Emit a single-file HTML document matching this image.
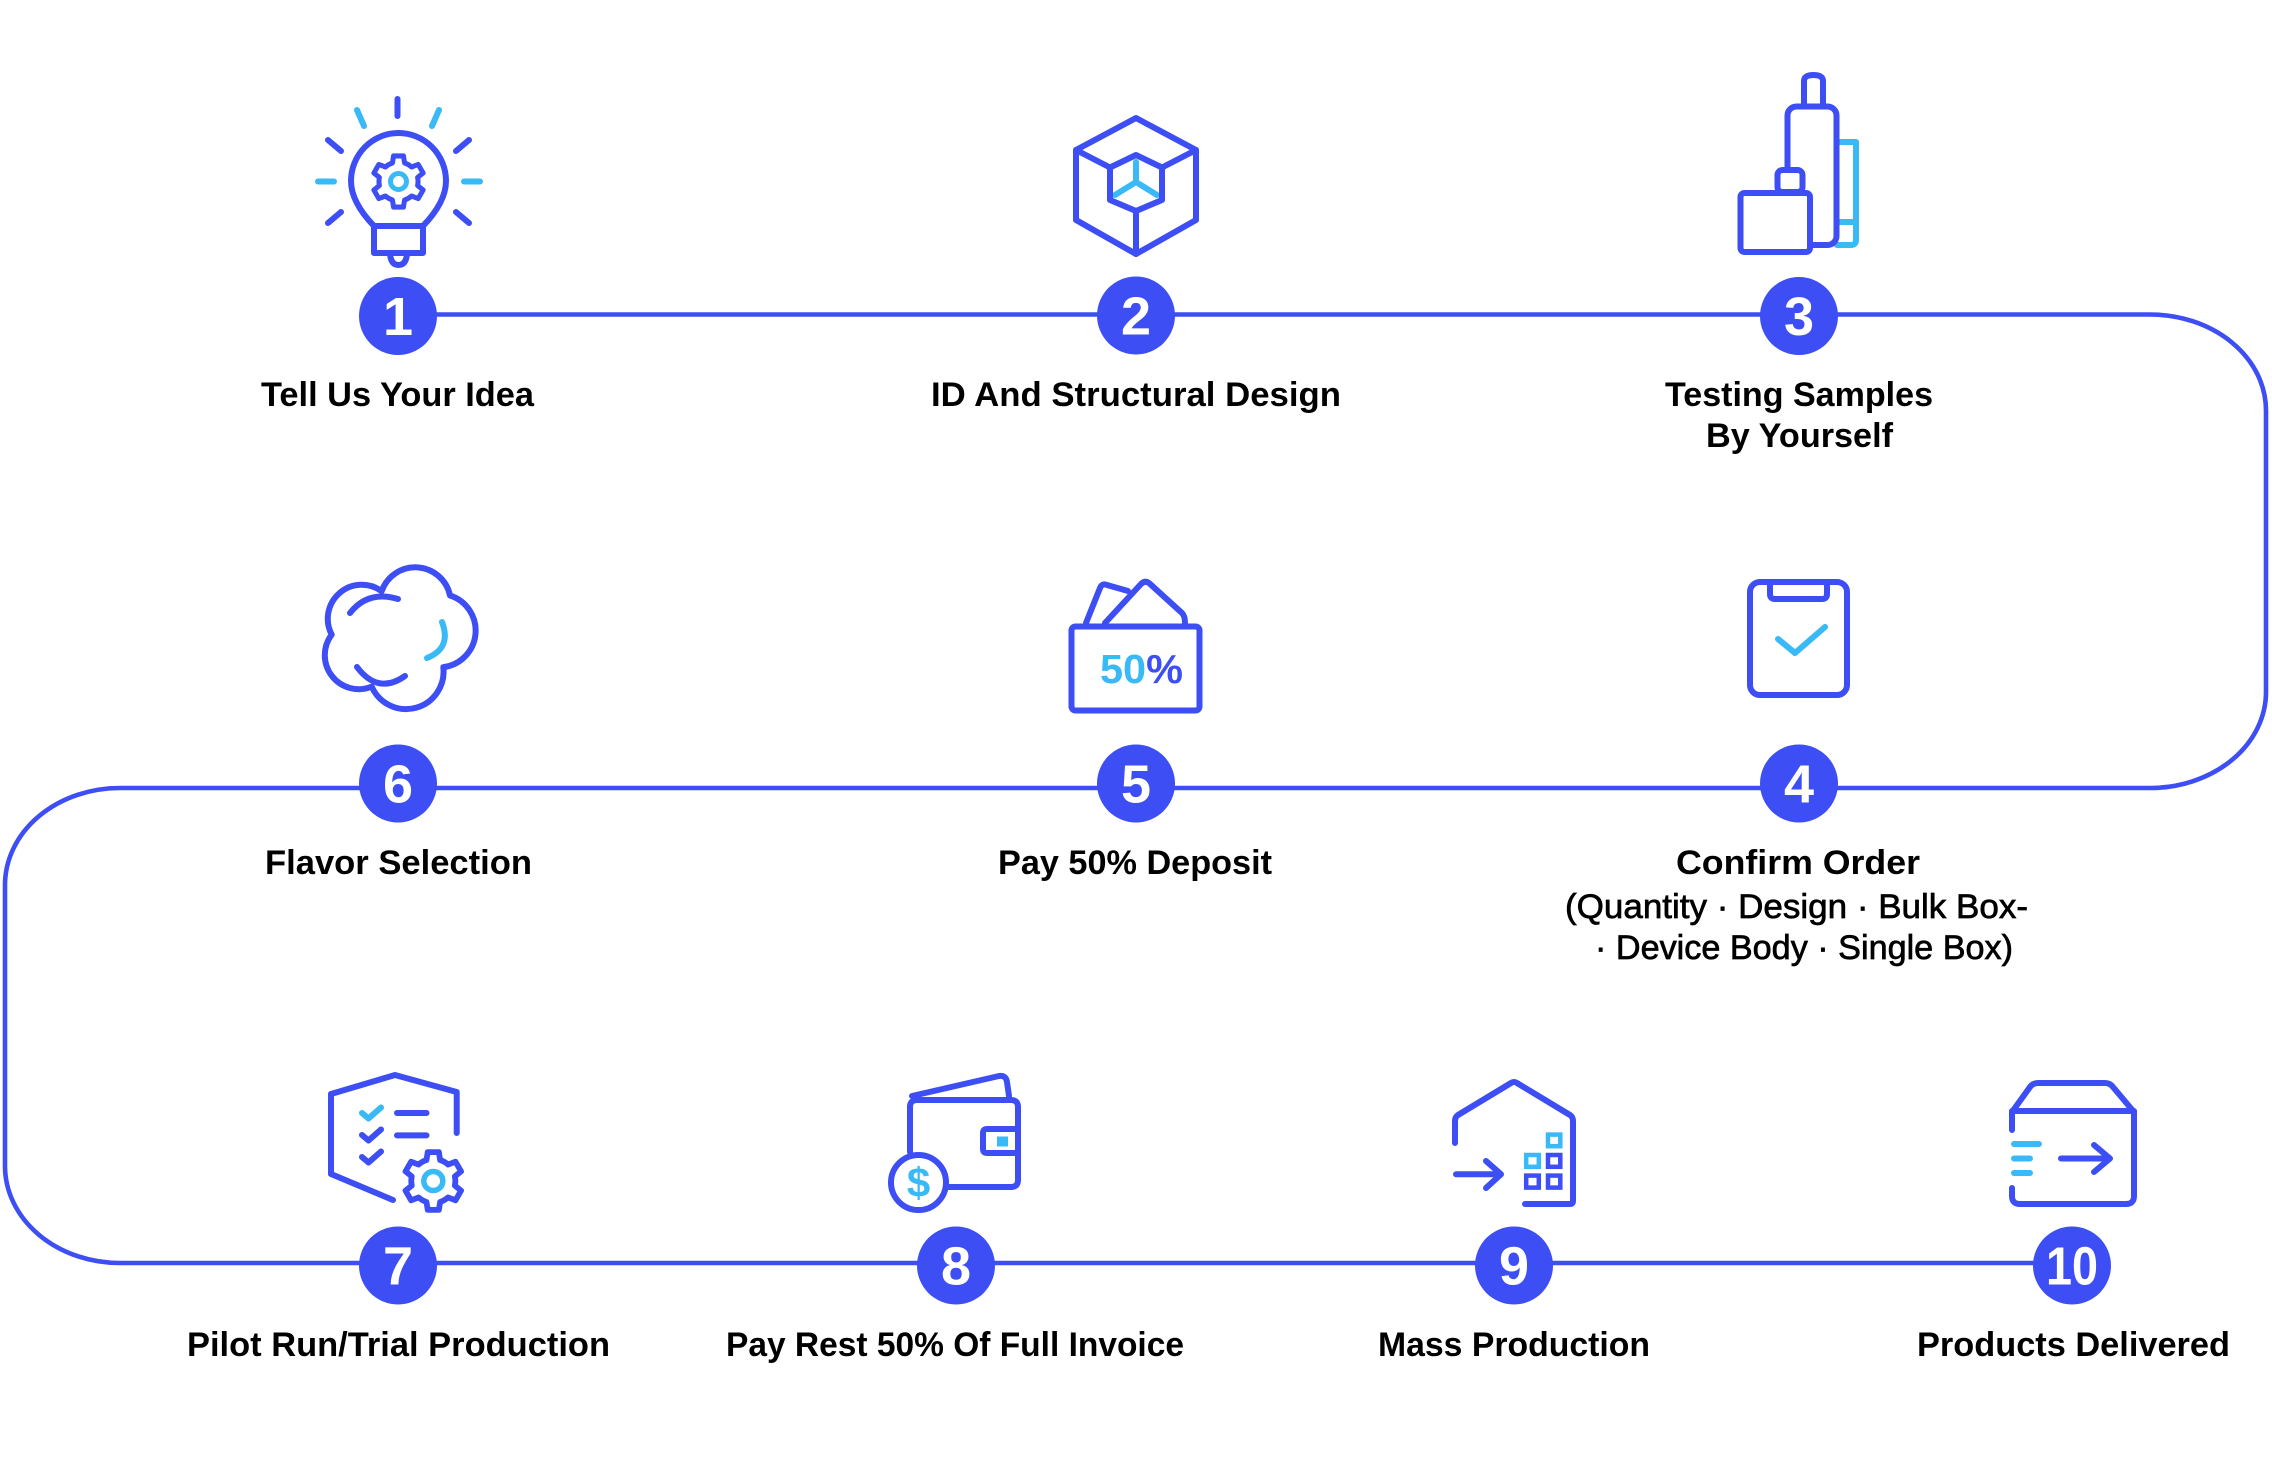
<!DOCTYPE html>
<html>
<head>
<meta charset="utf-8">
<style>
  html,body{margin:0;padding:0;background:#fff;}
  svg{display:block;}
  .lbl{font-family:"Liberation Sans",Arial,sans-serif;font-weight:bold;font-size:34px;fill:#000;}
  .sub{font-family:"Liberation Sans",Arial,sans-serif;font-weight:normal;font-size:34px;fill:#000;stroke:#000;stroke-width:0.7;}
  .num{font-family:"Liberation Sans",Arial,sans-serif;font-weight:bold;font-size:54px;fill:#fff;}
  .b{fill:none;stroke:#3d4ef5;stroke-width:6;stroke-linecap:round;stroke-linejoin:round;}
  .l{fill:none;stroke:#3ab9f7;stroke-width:6;stroke-linecap:round;stroke-linejoin:round;}
  .w{fill:#fff;}
</style>
</head>
<body>
<svg width="2272" height="1459" viewBox="0 0 2272 1459" xmlns="http://www.w3.org/2000/svg">
  <defs>
    <path id="gear" d="M -6.49 -19.97 L -5.34 -27.49 L 5.34 -27.49 L 6.49 -19.97 A 21 21 0 0 1 14.05 -15.61 L 21.13 -18.37 L 26.47 -9.12 L 20.54 -4.37 A 21 21 0 0 1 20.54 4.37 L 26.47 9.12 L 21.13 18.37 L 14.05 15.61 A 21 21 0 0 1 6.49 19.97 L 5.34 27.49 L -5.34 27.49 L -6.49 19.97 A 21 21 0 0 1 -14.05 15.61 L -21.13 18.37 L -26.47 9.12 L -20.54 4.37 A 21 21 0 0 1 -20.54 -4.37 L -26.47 -9.12 L -21.13 -18.37 L -14.05 -15.61 A 21 21 0 0 1 -6.49 -19.97 Z"/>
  </defs>

  <!-- main serpentine connector -->
  <path d="M 398 314.5 H 2150 A 116 96 0 0 1 2266 410.5 V 692 A 116 96 0 0 1 2150 788 H 120 A 115 97 0 0 0 5 885 V 1166 A 115 97 0 0 0 120 1263 H 2072"
        fill="none" stroke="#3d4ef5" stroke-width="4.6"/>

  <!-- step circles -->
  <g fill="#3d4ef5">
    <circle cx="398" cy="316" r="39"/>
    <circle cx="1136" cy="315.5" r="39"/>
    <circle cx="1799" cy="316" r="39"/>
    <circle cx="398" cy="783.5" r="39"/>
    <circle cx="1136" cy="783.5" r="39"/>
    <circle cx="1799" cy="783.5" r="39"/>
    <circle cx="398" cy="1265.5" r="39"/>
    <circle cx="956" cy="1265.5" r="39"/>
    <circle cx="1514" cy="1265.5" r="39"/>
    <circle cx="2072" cy="1265.5" r="39"/>
  </g>
  <g class="num" text-anchor="middle">
    <text x="398" y="335">1</text>
    <text x="1136" y="334.5">2</text>
    <text x="1799" y="335">3</text>
    <text x="1799" y="802.5">4</text>
    <text x="1136" y="802.5">5</text>
    <text x="398" y="802.5">6</text>
    <text x="398" y="1284.5">7</text>
    <text x="956" y="1284.5">8</text>
    <text x="1514" y="1284.5">9</text>
    <text x="2072" y="1284.5" textLength="52" lengthAdjust="spacingAndGlyphs">10</text>
  </g>

  <!-- labels -->
  <text class="lbl" x="261" y="406" textLength="273" lengthAdjust="spacingAndGlyphs">Tell Us Your Idea</text>
  <text class="lbl" x="931" y="406" textLength="410" lengthAdjust="spacingAndGlyphs">ID And Structural Design</text>
  <text class="lbl" x="1665" y="406" textLength="268" lengthAdjust="spacingAndGlyphs">Testing Samples</text>
  <text class="lbl" x="1706" y="447" textLength="187" lengthAdjust="spacingAndGlyphs">By Yourself</text>

  <text class="lbl" x="1676" y="874" textLength="244" lengthAdjust="spacingAndGlyphs">Confirm Order</text>
  <text class="sub" x="1565" y="918" textLength="463" lengthAdjust="spacingAndGlyphs">(Quantity · Design · Bulk Box-</text>
  <text class="sub" x="1595" y="959" textLength="418" lengthAdjust="spacingAndGlyphs">· Device Body · Single Box)</text>
  <text class="lbl" x="998" y="874" textLength="274" lengthAdjust="spacingAndGlyphs">Pay 50% Deposit</text>
  <text class="lbl" x="265" y="874" textLength="267" lengthAdjust="spacingAndGlyphs">Flavor Selection</text>

  <text class="lbl" x="187" y="1356" textLength="423" lengthAdjust="spacingAndGlyphs">Pilot Run/Trial Production</text>
  <text class="lbl" x="726" y="1356" textLength="458" lengthAdjust="spacingAndGlyphs">Pay Rest 50% Of Full Invoice</text>
  <text class="lbl" x="1378" y="1356" textLength="272" lengthAdjust="spacingAndGlyphs">Mass Production</text>
  <text class="lbl" x="1917" y="1356" textLength="313" lengthAdjust="spacingAndGlyphs">Products Delivered</text>

  <!-- ICON 1: light bulb -->
  <g>
    <path class="b" d="M 374 226 Q 351 202 351 181 A 47.5 48 0 0 1 446 181 Q 446 202 423 226" stroke-width="5.5"/>
    <rect class="b" x="374" y="226" width="49" height="27" stroke-width="5.5" stroke-linejoin="miter"/>
    <path class="b" d="M 390 254 Q 391 265 398.5 265 Q 406 265 407 254" stroke-width="5"/>
    <use href="#gear" transform="translate(398.5 181.5) scale(0.93)" fill="#fff" stroke="#3d4ef5" stroke-width="5.4" stroke-linejoin="round"/>
    <circle cx="398.5" cy="181.5" r="8" fill="none" stroke="#3ab9f7" stroke-width="5"/>
    <path class="b" d="M 397.5 99 V 116" stroke-width="5"/>
    <path class="l" d="M 357 110 L 364 126" stroke-width="5"/>
    <path class="l" d="M 439 110 L 432 126" stroke-width="5"/>
    <path class="b" d="M 328 140 L 341 151" stroke-width="5"/>
    <path class="b" d="M 469 140 L 456 151" stroke-width="5"/>
    <path class="l" d="M 318 181.5 H 334" stroke-width="5"/>
    <path class="l" d="M 464 181.5 H 480" stroke-width="5"/>
    <path class="b" d="M 341 212 L 328 223" stroke-width="5"/>
    <path class="b" d="M 456 212 L 469 223" stroke-width="5"/>
  </g>

  <!-- ICON 2: cube -->
  <g>
    <path class="b" d="M 1136 118 L 1196 150 V 220 L 1136 254 L 1076 220 V 150 Z"/>
    <path class="b" d="M 1076 150 L 1110 167.5 M 1196 150 L 1162 167.5"/>
    <path class="l" d="M 1136 162 V 182 M 1136 182 L 1115 195 M 1136 182 L 1157 195" stroke-width="5"/>
    <path class="b" d="M 1136 155 L 1162 167.5 V 200 L 1136 211 L 1110 200 V 167.5 Z"/>
    <path class="b" d="M 1136 211 V 254"/>
  </g>

  <!-- ICON 3: vape -->
  <g>
    <path class="l" d="M 1837 142 H 1856 V 240 Q 1856 245 1851 245 H 1837 M 1837 222 H 1856"/>
    <path class="b" d="M 1804 106 V 81 Q 1804 75 1813.5 75 Q 1823 75 1823 81 V 106"/>
    <rect class="b" x="1787.5" y="106.5" width="49" height="138.5" rx="9"/>
    <rect class="b w" x="1777.5" y="170" width="25" height="22" rx="5"/>
    <rect class="b w" x="1740.5" y="193" width="69.5" height="59" rx="4"/>
  </g>

  <!-- ICON 6: cloud -->
  <g>
    <path class="b" d="M 381.7 591.2 A 35.5 35.5 0 0 1 450 595.5 A 36.8 36.8 0 0 1 443.3 667.1 A 37.5 37.5 0 0 1 371.7 686.6 A 34 34 0 0 1 331.7 634.6 A 34 34 0 0 1 381.7 591.2 Z"/>
    <path class="b" d="M 350 613 Q 368 590 398 599"/>
    <path class="b" d="M 357 667 Q 378 695 405 676"/>
    <path class="l" d="M 442 622 Q 452 648 427 658"/>
  </g>

  <!-- ICON 5: 50% -->
  <g>
    <path class="b" d="M 1086 623 L 1100 588 Q 1102 583 1107 585 L 1128 591"/>
    <path class="b" d="M 1105 623 L 1141 584 Q 1145 580 1149 583 L 1182 613 Q 1185 616 1185 623"/>
    <rect class="b" x="1071.5" y="626.5" width="128" height="84" rx="4" stroke-width="6.5"/>
    <text x="1100" y="683" textLength="83" lengthAdjust="spacingAndGlyphs" font-family="Liberation Sans, Arial, sans-serif" font-weight="bold" font-size="41" fill="#3ab9f7">50<tspan fill="#3d4ef5">%</tspan></text>
  </g>

  <!-- ICON 4: clipboard -->
  <g>
    <rect class="b" x="1750" y="582" width="97" height="113" rx="10"/>
    <path class="b" d="M 1770 583 V 594 Q 1770 599 1775 599 H 1822 Q 1827 599 1827 594 V 583"/>
    <path class="l" d="M 1778 639 L 1795 653 L 1825 627"/>
  </g>

  <!-- ICON 7: shield checklist + gear -->
  <g>
    <path class="b" d="M 456.7 1133 V 1092 L 395 1075 L 331 1094 V 1174 L 393 1200"/>
    <path class="l" d="M 362 1113 L 368.5 1118.5 L 381 1107.5" stroke-width="5.5"/>
    <path class="b" d="M 362 1135 L 368.5 1140.5 L 381 1129.5" stroke-width="5.5"/>
    <path class="b" d="M 362 1157 L 368.5 1162.5 L 381 1151.5" stroke-width="5.5"/>
    <path class="b" d="M 397 1113 H 426.5 M 397 1135.4 H 426.5"/>
    <use href="#gear" transform="translate(433.3 1181) scale(1.05)" fill="#fff" stroke="#3d4ef5" stroke-width="5.5" stroke-linejoin="round"/>
    <circle cx="433.3" cy="1181" r="9.5" fill="none" stroke="#3ab9f7" stroke-width="5.5"/>
  </g>

  <!-- ICON 8: wallet + coin -->
  <g>
    <path class="b" d="M 912 1096 L 999 1076 Q 1006 1075 1007 1082 L 1009 1096"/>
    <path class="b" d="M 910 1152 V 1107 Q 910 1100 917 1100 H 1011 Q 1018 1100 1018 1107 V 1180 Q 1018 1187 1011 1187 H 948"/>
    <path class="b" d="M 1018 1129 H 987 Q 983 1129 983 1133 V 1149 Q 983 1153 987 1153 H 1018"/>
    <rect x="997" y="1136.5" width="11" height="10" fill="#3ab9f7"/>
    <circle cx="918.5" cy="1182.5" r="27.5" fill="#fff" stroke="#3d4ef5" stroke-width="6"/>
    <text x="918.5" y="1197" text-anchor="middle" font-family="Liberation Sans, Arial, sans-serif" font-weight="bold" font-size="42" fill="#3ab9f7">$</text>
  </g>

  <!-- ICON 9: house / warehouse -->
  <g>
    <path class="b" d="M 1455 1143 V 1121 Q 1455 1117 1458 1115 L 1511 1083 Q 1514 1081 1517 1083 L 1570 1115 Q 1573 1117 1573 1121 V 1201 Q 1573 1204 1570 1204 H 1525"/>
    <path class="b" d="M 1456 1174.3 H 1500 M 1486 1161 L 1501 1174.3 L 1486 1188"/>
    <g fill="none" stroke-width="4.5">
      <rect x="1548" y="1134.6" width="12.3" height="11.6" stroke="#3ab9f7"/>
      <rect x="1526.2" y="1155" width="12.6" height="11.8" stroke="#3ab9f7"/>
      <rect x="1548" y="1155" width="12.3" height="11.8" stroke="#3d4ef5"/>
      <rect x="1526.2" y="1175.6" width="12.6" height="12" stroke="#3d4ef5"/>
      <rect x="1548" y="1175.6" width="12.3" height="12" stroke="#3d4ef5"/>
    </g>
  </g>

  <!-- ICON 10: box delivered -->
  <g>
    <path class="b" d="M 2012 1130 V 1112 L 2030 1087 Q 2033 1083 2038 1083 H 2105 Q 2110 1083 2113 1087 L 2134 1112 V 1196 Q 2134 1204 2126 1204 H 2020 Q 2012 1204 2012 1196 V 1188"/>
    <path class="b" d="M 2012 1111 H 2134"/>
    <path class="l" d="M 2014 1144 H 2039 M 2014 1158.5 H 2030 M 2014 1173 H 2030"/>
    <path class="b" d="M 2061 1158.5 H 2109 M 2094 1145 L 2110 1158.5 L 2094 1172"/>
  </g>
</svg>
</body>
</html>
